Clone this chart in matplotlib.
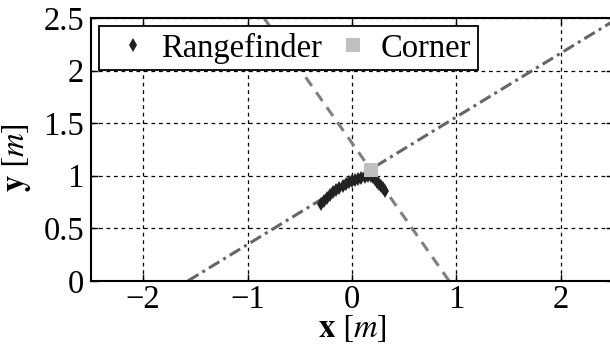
import numpy as np
import matplotlib
matplotlib.use("Agg")
import matplotlib.pyplot as plt

plt.rcParams['font.family'] = ['Liberation Serif', 'DejaVu Serif']
plt.rcParams['mathtext.fontset'] = 'stix'

# rangefinder readings (x, y) in metres
range_x = [-0.30, -0.27, -0.24, -0.21, -0.18, -0.15, -0.12, -0.09, -0.06, -0.03,
           0.00, 0.03, 0.06, 0.09, 0.12, 0.15, 0.18, 0.20, 0.22, 0.24, 0.26,
           0.28, 0.30, 0.32]
range_y = [0.73, 0.76, 0.79, 0.82, 0.84, 0.86, 0.88, 0.90, 0.92, 0.94,
           0.95, 0.96, 0.97, 0.98, 0.99, 1.00, 1.00, 0.99, 0.97, 0.94, 0.92,
           0.90, 0.88, 0.85]

corner_x = [0.18]
corner_y = [1.05]

# fitted wall lines (end points)
wall1_x = [-1.57, 2.70]
wall1_y = [0.00, 2.59]
wall2_x = [0.93, -0.90]
wall2_y = [0.00, 2.58]

fig = plt.figure(figsize=(6.1, 3.45), dpi=100)
ax = fig.add_axes([0.149, 0.186, 0.856, 0.762])

ax.plot(wall1_x, wall1_y, color='#666666', lw=2.2, ls=(0, (4, 1.5, 1, 1.5)))
ax.plot(wall2_x, wall2_y, color='#808080', lw=2.2, ls=(0, (3.5, 2.5)))
ax.plot(range_x, range_y, 'd', color='#222222', ms=7, mew=0, label='Rangefinder')
ax.plot(corner_x, corner_y, 's', color='#c0c0c0', ms=10, mew=0, label='Corner')

ax.set_xlim(-2.5, 2.5)
ax.set_ylim(0, 2.5)
ax.set_xticks([-2, -1, 0, 1, 2])
ax.set_yticks([0, 0.5, 1, 1.5, 2, 2.5])
ax.set_yticklabels(['0', '0.5', '1', '1.5', '2', '2.5'])
ax.grid(True, color='black', ls=(0, (3, 3)), lw=0.9)
ax.tick_params(direction='in', length=5, width=1, labelsize=23.5, top=True, right=True, pad=5)
ax.tick_params(axis='x', pad=3)
for s in ax.spines.values():
    s.set_linewidth(1.5)

ax.set_xlabel(r'$\mathbf{x}\ [m]$', fontsize=23.5, labelpad=-2)
ax.set_ylabel(r'$\mathbf{y}\ [m]$', fontsize=23.5, labelpad=2)
ax.yaxis.set_label_coords(-0.11, 0.47)

leg = ax.legend(loc='upper left', ncol=2, fontsize=23.5, fancybox=False, framealpha=1,
                edgecolor='black', borderaxespad=0.25, handletextpad=0.0,
                columnspacing=0.1, borderpad=0.2, handlelength=1.7)
leg.get_frame().set_linewidth(1.3)

fig.savefig('out.png', dpi=100)
